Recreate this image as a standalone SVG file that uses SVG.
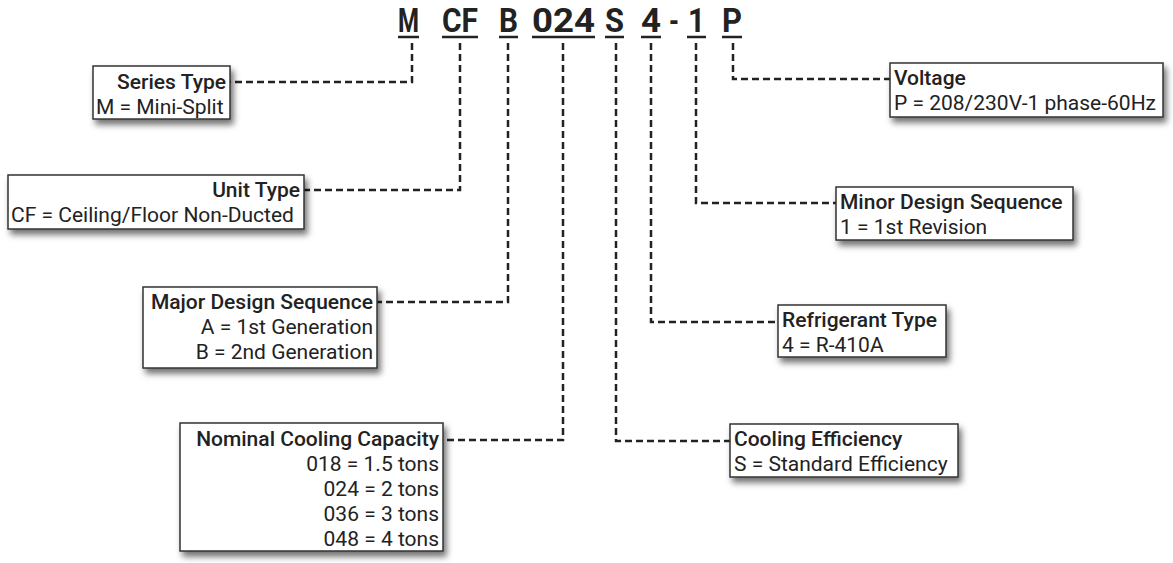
<svg xmlns="http://www.w3.org/2000/svg" width="1173" height="563" viewBox="0 0 1173 563">
<defs>
<filter id="sh" x="-10%" y="-20%" width="130%" height="160%">
<feDropShadow dx="3" dy="5" stdDeviation="3" flood-color="#000" flood-opacity="0.55"/>
</filter>
<style>
.code{font-family:Roboto,"Liberation Sans",sans-serif;font-weight:700;font-size:34px;fill:#222}
.ul{stroke:#222;stroke-width:2.5}
.box{fill:#fff;stroke:#333;stroke-width:1.5;filter:url(#sh)}
.hd{font-family:Roboto,"Liberation Sans",sans-serif;font-weight:500;font-size:21px;fill:#222}
.tx{font-family:Roboto,"Liberation Sans",sans-serif;font-weight:400;font-size:21px;fill:#222}
.r{text-anchor:end}
.dash{fill:none;stroke:#222;stroke-width:2.5;stroke-dasharray:7 4}
</style>
</defs>
<g id="title">
<text class="code" x="398" y="32" textLength="21" lengthAdjust="spacingAndGlyphs">M</text>
<text class="code" x="442" y="32" textLength="36" lengthAdjust="spacingAndGlyphs">CF</text>
<text class="code" x="499" y="32" textLength="19" lengthAdjust="spacingAndGlyphs">B</text>
<text class="code" x="532" y="32" textLength="63" lengthAdjust="spacingAndGlyphs">024</text>
<text class="code" x="605" y="32" textLength="19" lengthAdjust="spacingAndGlyphs">S</text>
<text class="code" x="641" y="32" textLength="20" lengthAdjust="spacingAndGlyphs">4</text>
<text class="code" x="669" y="32" textLength="10" lengthAdjust="spacingAndGlyphs">-</text>
<text class="code" x="688" y="32" textLength="17" lengthAdjust="spacingAndGlyphs">1</text>
<text class="code" x="722" y="32" textLength="20" lengthAdjust="spacingAndGlyphs">P</text>
<line class="ul" x1="398" y1="37" x2="419" y2="37"/>
<line class="ul" x1="442" y1="37" x2="478" y2="37"/>
<line class="ul" x1="499" y1="37" x2="518" y2="37"/>
<line class="ul" x1="532" y1="37" x2="595" y2="37"/>
<line class="ul" x1="605" y1="37" x2="624" y2="37"/>
<line class="ul" x1="641" y1="37" x2="661" y2="37"/>
<line class="ul" x1="687" y1="37" x2="706" y2="37"/>
<line class="ul" x1="722" y1="37" x2="742" y2="37"/>
</g>
<g id="connectors">
<path class="dash" d="M412 43 V82 H230"/>
<path class="dash" d="M460 43 V190 H304"/>
<path class="dash" d="M508 43 V302 H377"/>
<path class="dash" d="M563 43 V440 H443"/>
<path class="dash" d="M616 43 V441 H730"/>
<path class="dash" d="M651 43 V322 H778"/>
<path class="dash" d="M696 43 V203 H836"/>
<path class="dash" d="M733 43 V79 H890"/>
</g>
<g id="series-type">
<rect class="box" x="93" y="66" width="137" height="53"/>
<text class="hd r" x="226" y="89">Series Type</text>
<text class="tx" x="96" y="114">M = Mini-Split</text>
</g>
<g id="unit-type">
<rect class="box" x="8" y="175" width="296" height="54"/>
<text class="hd r" x="300" y="197">Unit Type</text>
<text class="tx" x="11" y="222">CF = Ceiling/Floor Non-Ducted</text>
</g>
<g id="major-design">
<rect class="box" x="143" y="287" width="234" height="81"/>
<text class="hd r" x="373" y="309">Major Design Sequence</text>
<text class="tx r" x="373" y="334">A = 1st Generation</text>
<text class="tx r" x="373" y="359">B = 2nd Generation</text>
</g>
<g id="nominal-cooling">
<rect class="box" x="180" y="423" width="263" height="128"/>
<text class="hd r" x="439" y="446">Nominal Cooling Capacity</text>
<text class="tx r" x="439" y="471">018 = 1.5 tons</text>
<text class="tx r" x="439" y="496">024 = 2 tons</text>
<text class="tx r" x="439" y="521">036 = 3 tons</text>
<text class="tx r" x="439" y="546">048 = 4 tons</text>
</g>
<g id="voltage">
<rect class="box" x="890" y="63" width="273" height="54"/>
<text class="hd" x="894" y="85">Voltage</text>
<text class="tx" x="894" y="110">P = 208/230V-1 phase-60Hz</text>
</g>
<g id="minor-design">
<rect class="box" x="836" y="187" width="237" height="53"/>
<text class="hd" x="840" y="209">Minor Design Sequence</text>
<text class="tx" x="840" y="234">1 = 1st Revision</text>
</g>
<g id="refrigerant">
<rect class="box" x="778" y="305" width="168" height="52"/>
<text class="hd" x="782" y="327">Refrigerant Type</text>
<text class="tx" x="782" y="352">4 = R-410A</text>
</g>
<g id="cooling-efficiency">
<rect class="box" x="730" y="424" width="228" height="53"/>
<text class="hd" x="734" y="446">Cooling Efficiency</text>
<text class="tx" x="734" y="471">S = Standard Efficiency</text>
</g>
</svg>
